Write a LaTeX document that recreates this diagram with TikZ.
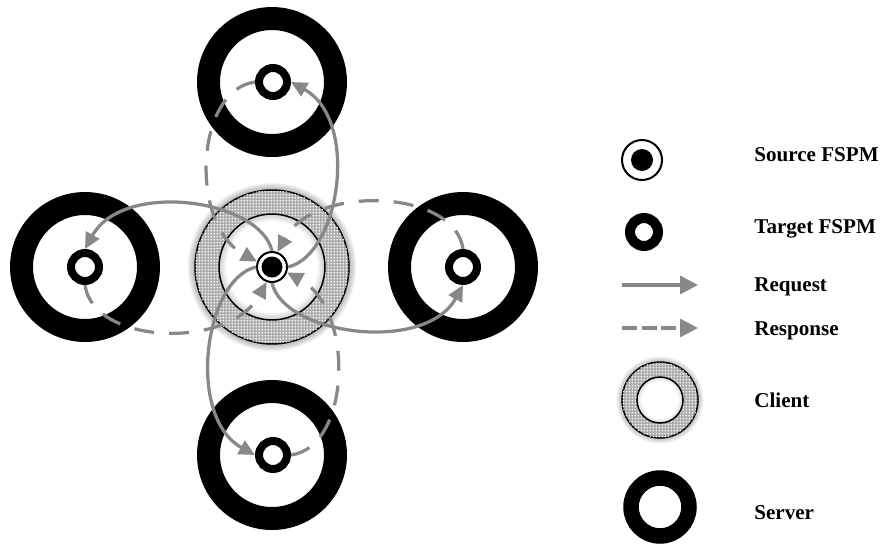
\documentclass[tikz,border=0pt]{standalone}
\usepackage{fontspec}
\setmainfont{Liberation Serif}
\usetikzlibrary{arrows.meta,patterns}
\definecolor{arrowgray}{RGB}{136,136,136}
\pgfdeclarepatternformonly{finedots}{\pgfpointorigin}{\pgfpoint{1.8pt}{1.8pt}}{\pgfpoint{1.8pt}{1.8pt}}{%
  \pgfpathcircle{\pgfpoint{0.9pt}{0.9pt}}{0.55pt}\pgfusepath{fill}}
\begin{document}
\begin{tikzpicture}[x=0.02cm,y=-0.02cm,
  server/.style={circle,draw=black,line width=0.46cm,minimum size=2.54cm,inner sep=0pt},
  target/.style={circle,draw=black,line width=0.16cm,minimum size=0.56cm,inner sep=0pt,fill=white},
  source/.style={circle,draw=black,line width=0.04cm,fill=white,inner sep=0pt,
    path picture={\fill[black] (path picture bounding box.center) circle (#1);}},
  clientring/.style={circle,draw=black,line width=0.03cm,inner sep=0pt,fill=black!32,
    postaction={pattern=finedots,pattern color=white}},
  clienthole/.style={circle,draw=black,line width=0.03cm,inner sep=0pt,fill=white},
  req/.style={draw=arrowgray,line width=0.065cm,-{Triangle[length=0.32cm,width=0.3cm]}},
  resp/.style={req,dash pattern=on 0.4cm off 0.3cm},
  lbl/.style={anchor=base west,inner sep=0pt,font=\fontsize{12}{14}\selectfont\bfseries}]
\useasboundingbox (0,0) rectangle (882,548);

% servers
\node[server] (ST) at (272,82) {};
\node[server] (SL) at (85,267) {};
\node[server] (SR) at (463,267) {};
\node[server] (SB) at (272,455) {};

% target FSPMs
\node[target] (T) at (273,82) {};
\node[target] (L) at (85,267) {};
\node[target] (R) at (463,267) {};
\node[target] (B) at (273,455) {};

% client with glow
\foreach \i in {1,...,6}
  \fill[black,opacity=0.05] (272,267) circle ({(77+\i*1.2)*0.02cm});
\node[clientring,minimum size=3.08cm] (client) at (272,267) {};
\node[clienthole,minimum size=2.12cm] (clientin) at (272,267) {};
\foreach \i in {1,...,6}
  \fill[black,opacity=0.03,even odd rule] (clientin.center) circle (1.06cm) circle ({(53-\i*1.2)*0.02cm});

% source FSPM
\node[source=0.21cm,minimum size=0.6cm] (S) at (272,267) {};

% requests
\draw[req] (S.east) .. controls +(52,-12) and +(69,38) .. (T.east);
\draw[req] (S.north) .. controls +(-12,-52) and +(38,-69) .. (L.north);
\draw[req] (S.west) .. controls +(-52,12) and +(-69,-38) .. (B.west);
\draw[req] (S.south) .. controls +(12,52) and +(-38,69) .. (R.south);

% responses
\draw[resp] (T.west) .. controls +(-60,8) and +(-68,-37) .. (S.160);
\draw[resp] (L.south) .. controls +(8,60) and +(-37,68) .. (S.250);
\draw[resp] (B.east) .. controls +(60,-8) and +(68,37) .. (S.340);
\draw[resp] (R.north) .. controls +(-8,-60) and +(37,-68) .. (S.70);

% legend
\node[source=0.22cm,minimum size=0.8cm] (lsrc) at (642,160) {};
\node[lbl] (tsrc) at (754,161) {Source FSPM};
\node[target,line width=0.2cm] (ltgt) at (644,232) {};
\node[lbl] (ttgt) at (754,233) {Target FSPM};
\coordinate (rqa) at (622,285);
\coordinate (rqb) at (698,285);
\draw[req,-{Triangle[length=0.36cm,width=0.36cm]}] (rqa) -- (rqb);
\node[lbl] (treq) at (754,291) {Request};
\coordinate (rsa) at (622,328);
\coordinate (rsb) at (698,328);
\draw[req,dash pattern=on 0.3cm off 0.09cm,-{Triangle[length=0.36cm,width=0.36cm]}] (rsa) -- (rsb);
\node[lbl] (tresp) at (754,335) {Response};
\foreach \i in {1,...,5}
  \fill[black,opacity=0.05] (660,400) circle ({(38+\i*1.1)*0.02cm});
\node[clientring,minimum size=1.52cm] (lcli) at (660,400) {};
\node[clienthole,minimum size=0.92cm] (lclin) at (660,400) {};
\foreach \i in {1,...,4}
  \fill[black,opacity=0.03,even odd rule] (lclin.center) circle (0.46cm) circle ({(23-\i*1.1)*0.02cm});
\node[lbl] (tcli) at (754,407) {Client};
\node[server,line width=0.31cm,minimum size=1.16cm] (lsrv) at (660,507) {};
\node[lbl] (tsrv) at (754,519) {Server};
\end{tikzpicture}
\end{document}
